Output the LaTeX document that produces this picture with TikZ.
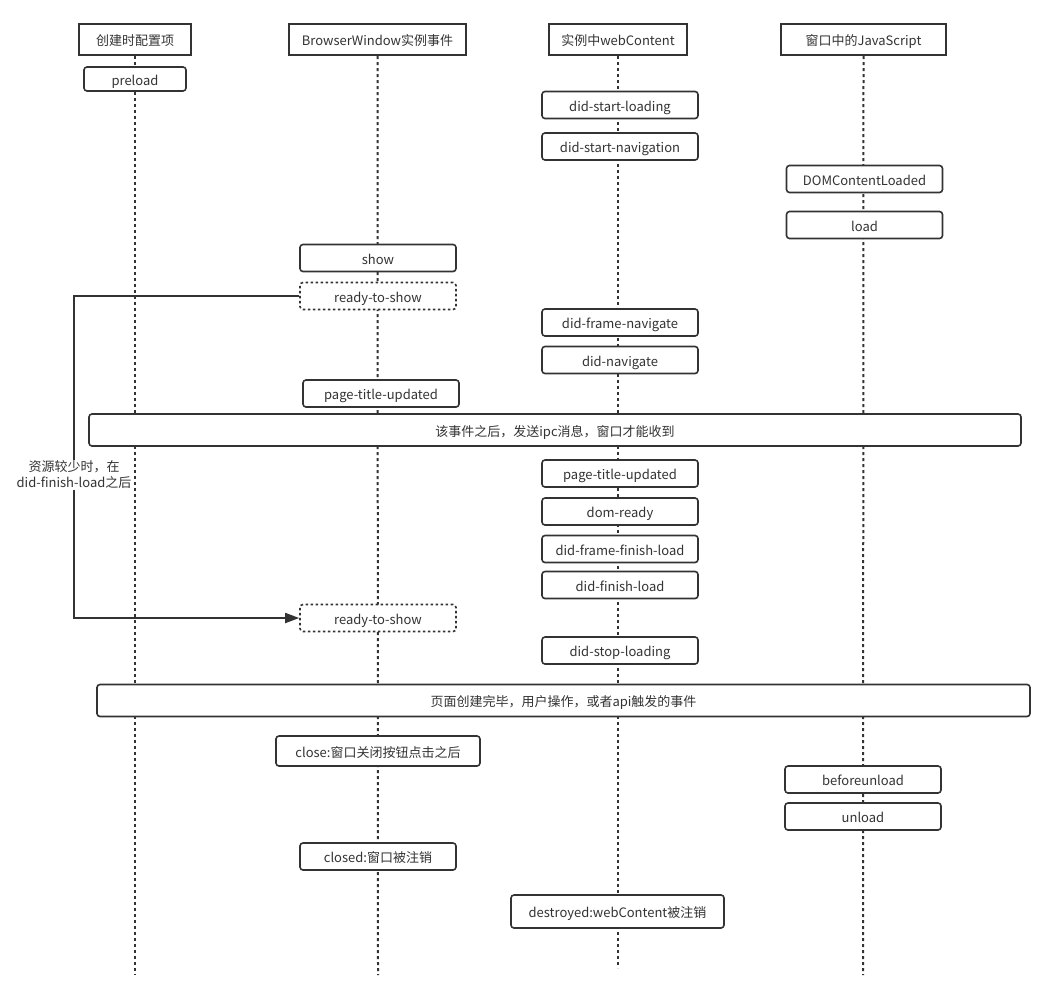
\documentclass[tikz,border=0pt]{standalone}
\usepackage{fontspec}
\setmainfont{Noto Sans CJK SC}
\usetikzlibrary{arrows.meta,backgrounds}
\definecolor{ink}{HTML}{333333}
\tikzset{
  base/.style={draw=ink, text=ink, fill=white, font=\fontsize{13}{15}\selectfont, inner sep=0pt, align=center, text height=12pt, text depth=0pt},
  hdr/.style={base, line width=2pt, minimum height=31pt},
  evbox/.style={base, line width=1.6pt, rounded corners=3pt, minimum width=156pt, minimum height=27pt},
  dotbox/.style={evbox, dash pattern=on 2.5pt off 2.5pt},
  wide/.style={base, line width=1.6pt, rounded corners=3pt, minimum height=32pt},
  life/.style={draw=ink, line width=2pt, dash pattern=on 3pt off 3pt},
  flow/.style={draw=ink, line width=1.8pt, -{Triangle[length=14pt,width=10pt]}},
}
\begin{document}
\begin{tikzpicture}[x=1pt,y=-1pt]
\useasboundingbox (0,0) rectangle (1056,1004);
% headers
\node[hdr, minimum width=112pt] (h1) at (135,39.5) {创建时配置项};
\node[hdr, minimum width=177pt] (h2) at (377.5,39.5) {BrowserWindow实例事件};
\node[hdr, minimum width=138pt] (h3) at (618,39.5) {实例中webContent};
\node[hdr, minimum width=165pt] (h4) at (863.5,39.5) {窗口中的JavaScript};
% lifeline ends
\coordinate (e1) at (135,975);
\coordinate (e2) at (378,975);
\coordinate (e3) at (618,968);
\coordinate (e4) at (863,975);
% column 1
\node[evbox, minimum width=102pt, minimum height=24pt] (preload) at (135,79) {preload};
% column 3
\node[evbox] (dsl) at (620,105) {did-start-loading};
\node[evbox] (dsn) at (620,146.5) {did-start-navigation};
% column 4
\node[evbox] (dcl) at (864.5,179) {DOMContentLoaded};
\node[evbox] (load) at (864.5,225) {load};
% column 2
\node[evbox] (show) at (378,258) {show};
\node[dotbox] (rts1) at (378,296) {ready-to-show};
% column 3
\node[evbox] (dfn) at (620,322.5) {did-frame-navigate};
\node[evbox] (dn) at (620,360) {did-navigate};
% column 2
\node[evbox] (ptu1) at (381,393.5) {page-title-updated};
% wide 1
\node[wide, minimum width=932pt] (ipc) at (555,430) {该事件之后，发送ipc消息，窗口才能收到};
% column 3
\node[evbox] (ptu2) at (620,473.5) {page-title-updated};
\node[evbox] (dr) at (620,511.5) {dom-ready};
\node[evbox] (dffl) at (620,549) {did-frame-finish-load};
\node[evbox] (dfl) at (620,585) {did-finish-load};
% column 2
\node[dotbox] (rts2) at (378,618) {ready-to-show};
% column 3
\node[evbox] (dstl) at (620,650.5) {did-stop-loading};
% wide 2
\node[wide, minimum width=933pt] (done) at (563.5,700.5) {页面创建完毕，用户操作，或者api触发的事件};
% column 2
\node[evbox, minimum width=204pt, minimum height=30pt] (close) at (378,751) {close:窗口关闭按钮点击之后};
% column 4
\node[evbox] (bul) at (863,779.5) {beforeunload};
\node[evbox] (unl) at (863,816.5) {unload};
% column 2
\node[evbox] (closed) at (378,856.5) {closed:窗口被注销};
% column 3
\node[evbox, minimum width=213pt, minimum height=33pt] (destr) at (617.5,911.5) {destroyed:webContent被注销};
% lifelines
\begin{scope}[on background layer]
\draw[life] (h1.south) -- (e1);
\draw[life] (h2.south) -- (e2);
\draw[life] (h3.south) -- (e3);
\draw[life] (h4.south) -- (e4);
\end{scope}
% flow arrow
\draw[flow] (rts1.west) -- ++(-225,0) |- (rts2.west);
\node[text=ink, fill=white, inner sep=1pt, align=center, font=\fontsize{13}{16}\selectfont] (note) at (74,475) {资源较少时，在\\did-finish-load之后};
\end{tikzpicture}
\end{document}
